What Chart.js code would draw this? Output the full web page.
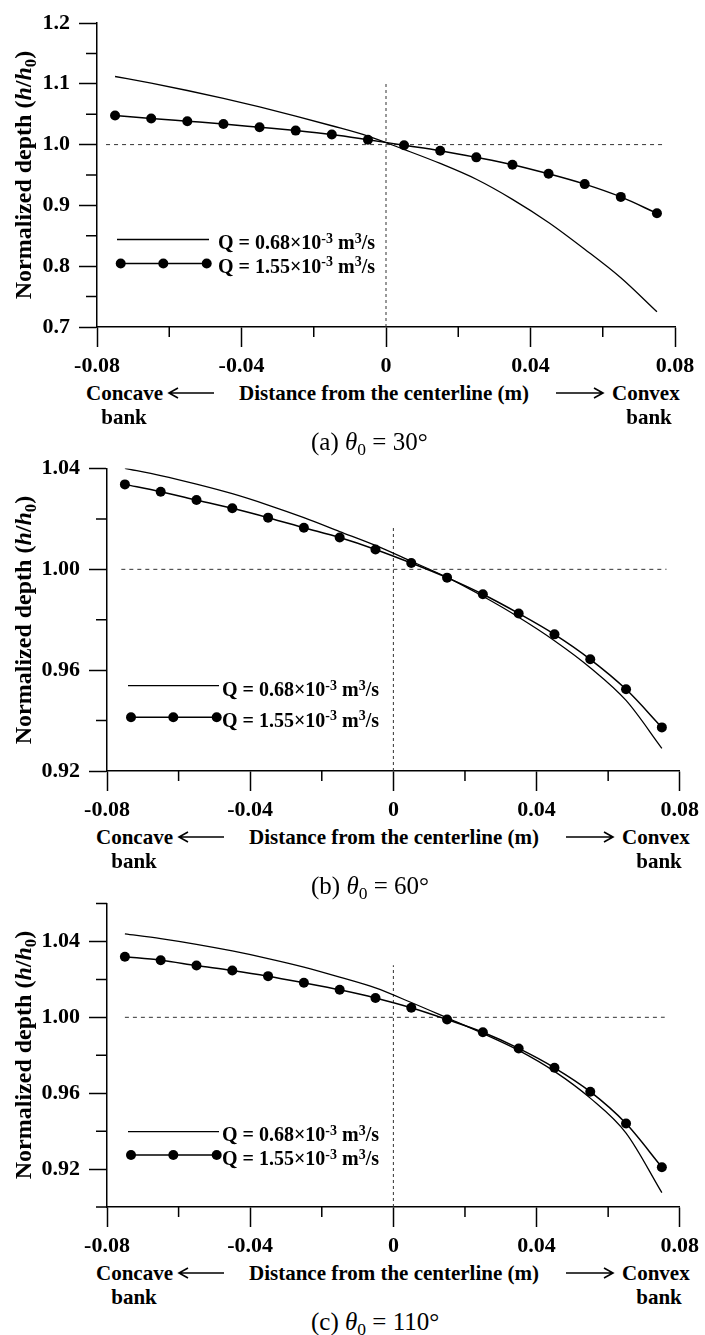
<!DOCTYPE html>
<html><head><meta charset="utf-8">
<script src="https://cdn.jsdelivr.net/npm/chart.js@4.4.1/dist/chart.umd.min.js"></script>
<style>
html,body{margin:0;padding:0;background:#fff;}
#page{position:relative;width:705px;height:1335px;overflow:hidden;font-family:"Liberation Serif","Times New Roman",serif;color:#000;}
canvas{position:absolute;left:0;}
.t{position:absolute;white-space:nowrap;line-height:1;transform:translateY(-50%);z-index:2;}
.tc{position:absolute;white-space:nowrap;line-height:1;transform:translate(-50%,-50%);z-index:2;}
.b{font-weight:bold;font-size:21px;}
.sup{position:relative;top:-0.45em;font-size:0.7em;line-height:0;}
.sub{position:relative;top:0.3em;font-size:0.7em;line-height:0;}
.leg{font-weight:bold;font-size:20px;}
.cap{font-size:25px;font-weight:normal;}
.ytitle{position:absolute;white-space:nowrap;font-weight:bold;font-size:24px;line-height:1;transform:translate(-50%,-50%) rotate(-90deg);z-index:2;}
svg{position:absolute;z-index:2;overflow:visible;}
</style></head>
<body><div id="page">
<canvas id="c1" width="705" height="380" style="top:0px"></canvas>
<canvas id="c2" width="705" height="404" style="top:420px"></canvas>
<canvas id="c3" width="705" height="400" style="top:860px"></canvas>
</div>
<script>
// ---------- data ----------
const xPos = [-0.075,-0.065,-0.055,-0.045,-0.035,-0.025,-0.015,-0.005,0.005,0.015,0.025,0.035,0.045,0.055,0.065,0.075];
const seriesNames = ['Q = 0.68×10-3 m3/s','Q = 1.55×10-3 m3/s'];

// (a) theta0 = 30
const aLow  = [1.112,1.101,1.089,1.076,1.062,1.047,1.031,1.014,0.992,0.969,0.943,0.910,0.872,0.828,0.781,0.725];
const aHigh = [1.048,1.043,1.0385,1.034,1.0285,1.023,1.0165,1.008,0.999,0.990,0.979,0.967,0.952,0.935,0.914,0.887];
// (b) theta0 = 60
const bLow  = [1.0401,1.0372,1.0338,1.0300,1.0255,1.0205,1.0150,1.0095,1.0032,0.9968,0.9893,0.9810,0.9717,0.9610,0.9480,0.9290];
const bHigh = [1.0337,1.0308,1.0275,1.0242,1.0205,1.0165,1.0126,1.0079,1.0025,0.9967,0.9901,0.9825,0.9742,0.9643,0.9524,0.9373];
// (c) theta0 = 110
const cLow  = [1.044,1.0415,1.0385,1.035,1.031,1.0265,1.0212,1.0155,1.0078,0.9997,0.9915,0.9826,0.9715,0.9574,0.939,0.9076];
const cHigh = [1.0319,1.0301,1.0273,1.0247,1.0217,1.0182,1.0145,1.0102,1.0050,0.9988,0.9921,0.9836,0.9734,0.9608,0.9440,0.9210];

// reference (dashed) lines
const aRefHx = [-0.0775,0.0772], aRefVy = [0.7,1.10];
const bRefHx = [-0.076,0.0763],  bRefVy = [0.92,1.0165];
const cRefHx = [-0.075,0.0758],  cRefVy = [0.90,1.0275];

// ticks
const xTickVals   = [-0.08,-0.06,-0.04,-0.02,0,0.02,0.04,0.06,0.08];
const xTickLabels = ['-0.08','','-0.04','','0','','0.04','','0.08'];
const aYTickVals   = [0.7,0.75,0.8,0.85,0.9,0.95,1.0,1.05,1.1,1.15,1.2];
const aYTickLabels = ['0.7','','0.8','','0.9','','1.0','','1.1','','1.2'];
const bYTickVals   = [0.92,0.94,0.96,0.98,1.00,1.02,1.04];
const bYTickLabels = ['0.92','','0.96','','1.00','','1.04'];
const cYTickVals   = [0.90,0.92,0.94,0.96,0.98,1.00,1.02,1.04,1.06];
const cYTickLabels = ['','0.92','','0.96','','1.00','','1.04',''];

const captions = ['(a) <i>θ</i><span class="sub">0</span> = 30°','(b) <i>θ</i><span class="sub">0</span> = 60°','(c) <i>θ</i><span class="sub">0</span> = 110°'];

// ---------- plugins ----------
const minorTicks = {
  id:'minorTicks',
  afterDraw(chart,args,o){
    const ctx=chart.ctx, xs=chart.scales.x, ys=chart.scales.y;
    ctx.save(); ctx.strokeStyle='#000'; ctx.lineWidth=1.5; ctx.beginPath();
    xs.ticks.forEach((t,i)=>{ if(!o.xLabels[i]){ const p=xs.getPixelForValue(t.value); ctx.moveTo(p,xs.top); ctx.lineTo(p,xs.top+o.xLen);} });
    ys.ticks.forEach((t,i)=>{ if(!o.yLabels[i]){ const p=ys.getPixelForValue(t.value); ctx.moveTo(ys.right-o.yLen,p); ctx.lineTo(ys.right,p);} });
    ctx.stroke(); ctx.restore();
  }
};
const legendSample = {
  id:'legendSample',
  afterDatasetsDraw(chart,args,o){
    const ctx=chart.ctx; ctx.save(); ctx.strokeStyle='#000'; ctx.fillStyle='#000';
    ctx.lineWidth=1.3; ctx.beginPath(); ctx.moveTo(o.lx0,o.ly); ctx.lineTo(o.lx1,o.ly); ctx.stroke();
    ctx.lineWidth=1.5; ctx.beginPath(); ctx.moveTo(o.dots[0],o.dy); ctx.lineTo(o.dots[o.dots.length-1],o.dy); ctx.stroke();
    o.dots.forEach(d=>{ctx.beginPath();ctx.arc(d,o.dy,5,0,Math.PI*2);ctx.fill();});
    ctx.restore();
  }
};

const FONT = '"Liberation Serif","Times New Roman",serif';

function build(p){
  const ds = [
    {label:seriesNames[0], data:xPos.map((x,i)=>({x,y:p.low[i]})), borderColor:'#000', borderWidth:1.3, pointRadius:0, cubicInterpolationMode:'monotone', fill:false},
    {label:seriesNames[1], data:xPos.map((x,i)=>({x,y:p.high[i]})), borderColor:'#000', borderWidth:1.5, pointRadius:5, pointBackgroundColor:'#000', pointBorderColor:'#000', pointBorderWidth:0, cubicInterpolationMode:'monotone', fill:false},
    {label:'h/h0 = 1', data:p.refHx.map(x=>({x,y:1})), borderColor:'#333', borderWidth:1, borderDash:[4,4], pointRadius:0},
    {label:'centerline', data:p.refVy.map(y=>({x:0,y})), borderColor:'#333', borderWidth:1, borderDash:[3,3], pointRadius:0}
  ];
  new Chart(document.getElementById(p.id), {
    type:'line',
    data:{datasets:ds},
    plugins:[minorTicks, legendSample],
    options:{
      responsive:false, animation:false, devicePixelRatio:1,
      layout:{padding:{top:p.pt,right:p.pr,bottom:0,left:0}},
      plugins:{
        legend:{display:false}, tooltip:{enabled:false},
        minorTicks:{xLabels:xTickLabels, yLabels:p.yLabels, xLen:10, yLen:11},
        legendSample:p.leg
      },
      scales:{
        x:{type:'linear', min:-0.08, max:0.08,
          afterBuildTicks:s=>{s.ticks=xTickVals.map(v=>({value:v}));},
          afterFit:s=>{s.height=53;},
          ticks:{autoSkip:false, maxRotation:0, padding:6, color:'#000', font:{family:FONT, weight:'bold', size:22}, callback:(v,i)=>xTickLabels[i]},
          grid:{display:true, drawOnChartArea:false, drawTicks:true, tickLength:20, tickWidth:1.5, tickColor:c=>xTickLabels[c.index]?'#000':'rgba(0,0,0,0)'},
          border:{display:true, color:'#000', width:1.5}
        },
        y:{type:'linear', min:p.yMin, max:p.yMax,
          afterBuildTicks:s=>{s.ticks=p.yVals.map(v=>({value:v}));},
          afterFit:s=>{s.width=p.leftW;},
          ticks:{autoSkip:false, padding:9, color:'#000', font:{family:FONT, weight:'bold', size:22}, callback:(v,i)=>p.yLabels[i]},
          grid:{display:true, drawOnChartArea:false, drawTicks:true, tickLength:18, tickWidth:1.5, tickColor:c=>p.yLabels[c.index]?'#000':'rgba(0,0,0,0)'},
          border:{display:true, color:'#000', width:1.5}
        }
      }
    }
  });
}

build({id:'c1', low:aLow, high:aHigh, refHx:aRefHx, refVy:aRefVy, yMin:0.7, yMax:1.2, yVals:aYTickVals, yLabels:aYTickLabels, pt:23, pr:30, leftW:97,
  leg:{lx0:117, lx1:209, ly:239.5, dots:[120.7,163.3,206.7], dy:263.5}});
build({id:'c2', low:bLow, high:bHigh, refHx:bRefHx, refVy:bRefVy, yMin:0.92, yMax:1.04, yVals:bYTickVals, yLabels:bYTickLabels, pt:48.5, pr:20, leftW:107,
  leg:{lx0:128, lx1:219, ly:265.7, dots:[131,173.3,216.7], dy:297.3}});
build({id:'c3', low:cLow, high:cHigh, refHx:cRefHx, refVy:cRefVy, yMin:0.90, yMax:1.06, yVals:cYTickVals, yLabels:cYTickLabels, pt:43.5, pr:20, leftW:107,
  leg:{lx0:128, lx1:219, ly:271.7, dots:[131,173.3,216.7], dy:295}});

// ---------- HTML text ----------
const page = document.getElementById('page');
function add(cls, html, left, top){ const d=document.createElement('div'); d.className=cls; d.innerHTML=html; d.style.left=left+'px'; d.style.top=top+'px'; page.appendChild(d); return d; }
function arrow(x0,x1,y,dir){
  const w=x1-x0, ns='http://www.w3.org/2000/svg';
  const s=document.createElementNS(ns,'svg'); s.setAttribute('width',w); s.setAttribute('height',14);
  s.style.left=x0+'px'; s.style.top=(y-7)+'px';
  const path=document.createElementNS(ns,'path');
  const d = dir<0 ? `M0,7 L${w},7 M9,2 L0,7 L9,12` : `M0,7 L${w},7 M${w-9},2 L${w},7 L${w-9},12`;
  path.setAttribute('d',d); path.setAttribute('stroke','#000'); path.setAttribute('stroke-width','1.6'); path.setAttribute('fill','none');
  s.appendChild(path); page.appendChild(s);
}
const panels = [
  {axisY:327, dx:0, yc:175, leg:[218,242,265.5]},
  {axisY:771, dx:10, yc:620, leg:[222,689,719.5]},
  {axisY:1207, dx:10, yc:1055, leg:[222,1134,1158]}
];
panels.forEach((P,k)=>{
  const ty=P.axisY+66, by=P.axisY+90, cy=P.axisY+114, dx=P.dx;
  add('t b','Concave',86+dx,ty);
  arrow(169+dx,214+dx,ty,-1);
  add('t b','Distance from the centerline (m)',239+dx,ty);
  arrow(556+dx,603+dx,ty,1);
  add('t b','Convex',612+dx,ty);
  add('tc b','bank',124+dx,by);
  add('tc b','bank',649+dx,by);
  add('t cap',captions[k],311,cy);
  add('ytitle','Normalized depth (<i>h</i>/<i>h</i><span class="sub">0</span>)',23,P.yc);
  add('t leg','Q = 0.68×10<span class="sup">-3</span> m<span class="sup">3</span>/s',P.leg[0],P.leg[1]);
  add('t leg','Q = 1.55×10<span class="sup">-3</span> m<span class="sup">3</span>/s',P.leg[0],P.leg[2]);
});
</script>
</body></html>
